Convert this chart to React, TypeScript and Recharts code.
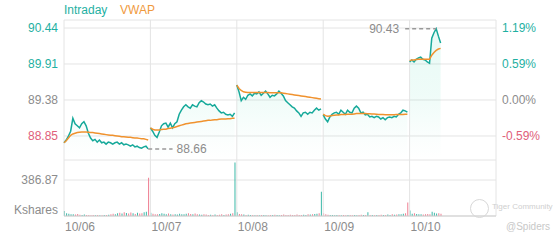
import React from "react";
import { ComposedChart, Area, Line, Bar, Cell, XAxis, YAxis, CartesianGrid, ReferenceLine } from "recharts";

const days = ["10/06", "10/07", "10/08", "10/09", "10/10"];
const PER_DAY = 39;
const prevClose = 89.38;
const priceTicks = [88.85, 89.38, 89.91, 90.44];
const volTicks = [0, 386.87];

const price1006 = [88.75, 88.79, 88.85, 88.92, 89.11, 89.03, 89.0, 88.97, 89.03, 89.06, 89.0, 88.89, 88.82, 88.78, 88.8, 88.76, 88.79, 88.75, 88.76, 88.73, 88.76, 88.75, 88.73, 88.75, 88.76, 88.73, 88.75, 88.72, 88.73, 88.72, 88.7, 88.72, 88.69, 88.7, 88.68, 88.67, 88.69, 88.7, 88.66];
const price1007 = [88.97, 88.92, 88.86, 88.83, 88.91, 89.0, 89.03, 89.04, 88.98, 89.04, 88.97, 89.03, 89.06, 89.17, 89.23, 89.28, 89.31, 89.28, 89.26, 89.31, 89.29, 89.28, 89.34, 89.37, 89.35, 89.32, 89.31, 89.32, 89.29, 89.31, 89.26, 89.22, 89.19, 89.2, 89.17, 89.16, 89.17, 89.14, 89.19];
const price1008 = [89.6, 89.5, 89.37, 89.42, 89.39, 89.45, 89.47, 89.44, 89.48, 89.47, 89.5, 89.45, 89.48, 89.51, 89.47, 89.42, 89.45, 89.44, 89.47, 89.51, 89.48, 89.44, 89.37, 89.34, 89.31, 89.28, 89.26, 89.22, 89.19, 89.14, 89.19, 89.2, 89.17, 89.2, 89.19, 89.23, 89.26, 89.23, 89.25];
const price1009 = [89.16, 89.1, 89.06, 89.13, 89.17, 89.19, 89.2, 89.17, 89.23, 89.2, 89.17, 89.23, 89.2, 89.19, 89.26, 89.29, 89.26, 89.19, 89.2, 89.16, 89.17, 89.13, 89.14, 89.12, 89.14, 89.13, 89.1, 89.12, 89.09, 89.12, 89.13, 89.12, 89.14, 89.13, 89.17, 89.19, 89.23, 89.22, 89.2];
const price1010 = [89.94, 89.97, 89.94, 89.98, 90.0, 90.01, 89.98, 89.97, 89.94, 89.92, 90.29, 90.37, 90.43, 90.32, 90.22];

const vwap1006 = [88.75, 88.78, 88.82, 88.86, 88.88, 88.89, 88.9, 88.905, 88.91, 88.91, 88.91, 88.905, 88.9, 88.9, 88.895, 88.89, 88.885, 88.88, 88.875, 88.87, 88.865, 88.86, 88.86, 88.855, 88.85, 88.845, 88.84, 88.84, 88.835, 88.83, 88.83, 88.825, 88.82, 88.82, 88.815, 88.81, 88.81, 88.8, 88.79];
const vwap1007 = [88.97, 88.95, 88.94, 88.94, 88.94, 88.945, 88.95, 88.95, 88.96, 88.965, 88.97, 88.98, 88.99, 89.0, 89.01, 89.02, 89.03, 89.035, 89.04, 89.045, 89.05, 89.055, 89.06, 89.065, 89.07, 89.075, 89.08, 89.08, 89.085, 89.09, 89.09, 89.095, 89.1, 89.1, 89.1, 89.105, 89.105, 89.11, 89.11];
const vwap1008 = [89.6, 89.55, 89.52, 89.5, 89.495, 89.49, 89.49, 89.49, 89.49, 89.49, 89.49, 89.49, 89.49, 89.49, 89.49, 89.488, 89.488, 89.487, 89.487, 89.486, 89.485, 89.48, 89.475, 89.47, 89.465, 89.46, 89.455, 89.45, 89.445, 89.44, 89.435, 89.43, 89.425, 89.42, 89.415, 89.41, 89.405, 89.4, 89.395];
const vwap1009 = [89.17, 89.15, 89.14, 89.145, 89.15, 89.155, 89.16, 89.16, 89.165, 89.165, 89.165, 89.17, 89.17, 89.17, 89.175, 89.18, 89.18, 89.18, 89.18, 89.18, 89.178, 89.176, 89.174, 89.172, 89.17, 89.168, 89.166, 89.165, 89.164, 89.163, 89.163, 89.163, 89.164, 89.165, 89.166, 89.167, 89.168, 89.17, 89.17];
const vwap1010 = [89.96, 89.97, 89.97, 89.975, 89.98, 89.98, 89.98, 89.98, 89.98, 89.98, 90.04, 90.08, 90.11, 90.13, 90.14];

const vol1006 = [55, 30, 25, 20, 18, 15, 22, 14, 12, 16, 10, 12, 9, 11, 8, 10, 9, 7, 12, 10, 14, 18, 25, 20, 30, 35, 28, 40, 32, 26, 38, 30, 22, 35, 28, 30, 40, 45, 410];
const vol1007 = [35, 25, 20, 18, 22, 30, 25, 20, 28, 18, 15, 20, 16, 24, 20, 18, 25, 30, 22, 18, 26, 20, 15, 14, 18, 16, 12, 14, 12, 15, 10, 14, 18, 12, 15, 20, 25, 30, 575];
const vol1008 = [40, 22, 18, 15, 12, 14, 10, 12, 9, 11, 8, 10, 12, 9, 8, 10, 12, 14, 10, 9, 12, 15, 10, 12, 14, 10, 12, 16, 12, 10, 14, 12, 20, 15, 18, 22, 25, 30, 260];
const vol1009 = [30, 18, 14, 12, 10, 9, 12, 10, 8, 11, 9, 12, 10, 8, 10, 9, 12, 14, 10, 11, 40, 12, 10, 9, 12, 10, 14, 12, 10, 15, 12, 18, 14, 16, 20, 18, 25, 30, 145];
const vol1010 = [60, 25, 30, 22, 18, 20, 15, 18, 22, 20, 45, 35, 28, 30, 25];

const priceDays = [price1006, price1007, price1008, price1009, price1010];
const vwapDays = [vwap1006, vwap1007, vwap1008, vwap1009, vwap1010];
const volDays = [vol1006, vol1007, vol1008, vol1009, vol1010];

const TEAL = "#1fb0a2";
const LINE_TEAL = "#16a99a";
const ORANGE = "#f0922e";
const RED = "#e0607a";
const GRAY = "#8c8c8c";
const GRID = "#e4e4e4";
const FONT = "'Liberation Sans', Arial, sans-serif";

const rows: any[] = [];
const volRows: any[] = [];
let last = priceDays[0][0];
priceDays.forEach((p, d) => {
  p.forEach((v, j) => {
    const t = d * PER_DAY + j;
    rows.push({ t, price: v, vwap: vwapDays[d][j] });
    volRows.push({ t, vol: volDays[d][j], up: v >= last });
    last = v;
  });
  if (d < priceDays.length - 1) rows.push({ t: d * PER_DAY + PER_DAY - 0.5, price: null, vwap: null });
});

const lo = 88.4965;
const hi = 90.5578;
const dayTicks = days.map((_, i) => i * PER_DAY);
const gridX = [...dayTicks, days.length * PER_DAY];

const tone = (v: number) => (Math.abs(v - prevClose) < 0.005 ? GRAY : v > prevClose ? TEAL : RED);
const pct = (v: number) => (((v - prevClose) / prevClose) * 100).toFixed(2) + "%";

const LeftTick = (props: any) => {
  const { x, y, payload } = props;
  return (
    <text x={x} y={y} dy={4} textAnchor="end" fontSize={12} fontFamily={FONT} fill={tone(payload.value)}>
      {payload.value.toFixed(2)}
    </text>
  );
};

const RightTick = (props: any) => {
  const { x, y, payload } = props;
  return (
    <text x={x} y={y} dy={4} textAnchor="start" fontSize={12} fontFamily={FONT} fill={tone(payload.value)}>
      {pct(payload.value)}
    </text>
  );
};

const VolTick = (props: any) => {
  const { x, y, payload } = props;
  const zero = payload.value === 0;
  return (
    <text x={x} y={y} dy={zero ? -2 : 4} textAnchor="end" fontSize={12} fontFamily={FONT} fill={GRAY}>
      {zero ? "Kshares" : payload.value.toFixed(2)}
    </text>
  );
};

const DayTick = (props: any) => {
  const { x, y, payload } = props;
  return (
    <text x={x + 1} y={y} dy={13} textAnchor="start" fontSize={12} fontFamily={FONT} fill={GRAY}>
      {days[payload.value / PER_DAY]}
    </text>
  );
};

export default function App() {
  return (
    <div style={{ position: "absolute", left: 0, top: 0, width: 560, height: 240, background: "#fff", fontFamily: FONT }}>
      <div style={{ position: "absolute", left: 64, top: 3, fontSize: 12, lineHeight: "14px", color: TEAL }}>Intraday</div>
      <div style={{ position: "absolute", left: 120, top: 3, fontSize: 12, lineHeight: "14px", color: "#f09a3e" }}>VWAP</div>

      <div style={{ position: "absolute", left: 0, top: 0 }}>
        <ComposedChart width={560} height={160} data={rows} margin={{ top: 20, right: 0, bottom: 0, left: 0 }}>
          <defs>
            <linearGradient id="mint" x1="0" y1="0" x2="0" y2="1">
              <stop offset="0%" stopColor="#1ecf9e" stopOpacity={0.17} />
              <stop offset="50%" stopColor="#1ecf9e" stopOpacity={0.12} />
              <stop offset="80%" stopColor="#1ecf9e" stopOpacity={0.04} />
              <stop offset="100%" stopColor="#1ecf9e" stopOpacity={0} />
            </linearGradient>
          </defs>
          <CartesianGrid vertical={false} stroke={GRID} />
          <XAxis dataKey="t" type="number" domain={[0, days.length * PER_DAY]} hide />
          <YAxis domain={[lo, hi]} allowDataOverflow ticks={priceTicks} width={64} axisLine={false} tickLine={false} tickSize={0} tickMargin={6} tick={<LeftTick />} interval={0} />
          <YAxis yAxisId="r" orientation="right" domain={[lo, hi]} allowDataOverflow ticks={priceTicks} width={64} axisLine={false} tickLine={false} tickSize={0} tickMargin={6} tick={<RightTick />} interval={0} />
          {gridX.map((t) => (
            <ReferenceLine key={t} x={t} stroke={GRID} />
          ))}
          <Area dataKey="price" stroke="none" fill="url(#mint)" isAnimationActive={false} connectNulls={false} />
          <Line yAxisId="r" dataKey="price" stroke="none" dot={false} isAnimationActive={false} legendType="none" />
          <Line dataKey="price" stroke={LINE_TEAL} strokeWidth={1.5} dot={false} isAnimationActive={false} connectNulls={false} />
          <Line dataKey="vwap" stroke={ORANGE} strokeWidth={1.5} dot={false} isAnimationActive={false} connectNulls={false} />
          <ReferenceLine
            segment={[{ x: 38, y: 88.66 }, { x: 49, y: 88.66 }]}
            stroke="#999"
            strokeWidth={1.5}
            strokeDasharray="4 3"
            label={{ value: "88.66", position: "right", offset: 4, fill: GRAY, fontSize: 12, fontFamily: FONT }}
          />
          <ReferenceLine
            segment={[{ x: 154, y: 90.43 }, { x: 168, y: 90.43 }]}
            stroke="#999"
            strokeWidth={1.5}
            strokeDasharray="4 3"
            label={{ value: "90.43", position: "left", offset: 6, fill: GRAY, fontSize: 12, fontFamily: FONT }}
          />
        </ComposedChart>
      </div>

      <div style={{ position: "absolute", left: 0, top: 160 }}>
        <ComposedChart width={560} height={80} data={volRows} margin={{ top: 0, right: 64, bottom: 0, left: 0 }}>
          <CartesianGrid vertical={false} stroke={GRID} />
          <XAxis dataKey="t" type="number" domain={[0, days.length * PER_DAY]} ticks={dayTicks} height={24} stroke="#cfcfcf" tickLine={false} tickSize={0} tickMargin={2} tick={<DayTick />} interval={0} />
          <YAxis domain={[0, 601.8]} allowDataOverflow ticks={volTicks} width={64} axisLine={false} tickLine={false} tickSize={0} tickMargin={6} tick={<VolTick />} interval={0} />
          {gridX.map((t) => (
            <ReferenceLine key={t} x={t} stroke={GRID} />
          ))}
          <Bar dataKey="vol" barSize={1} isAnimationActive={false}>
            {volRows.map((r, i) => (
              <Cell key={i} fill={r.up ? "#3cb8a8" : "#ef7f92"} />
            ))}
          </Bar>
        </ComposedChart>
      </div>

      <div style={{ position: "absolute", left: 470, top: 199, width: 17, height: 17, borderRadius: "50%", border: "1px solid #d8d8d8" }} />
      <div style={{ position: "absolute", left: 492, top: 202, fontSize: 8, color: "#cfcfcf" }}>Tiger Community</div>
      <div style={{ position: "absolute", left: 506, top: 221, fontSize: 10, color: "#c8c8c8" }}>@Spiders</div>
    </div>
  );
}
